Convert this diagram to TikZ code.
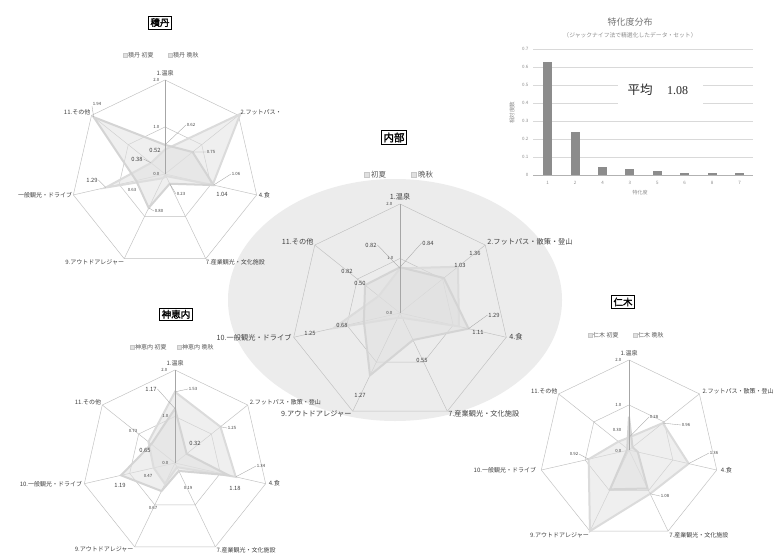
\documentclass[tikz,border=0pt]{standalone}
\usepackage{fontspec}
\setmainfont{Noto Sans CJK JP}[AutoFakeBold=2]
\newfontfamily\numserif{Liberation Serif}
\definecolor{txt}{HTML}{404040}
\definecolor{lgd}{HTML}{595959}
\definecolor{grd}{HTML}{BFBFBF}
\definecolor{ell}{HTML}{ECECEC}
\definecolor{barc}{HTML}{8C8C8C}
\definecolor{bgr}{HTML}{D9D9D9}
\definecolor{btx}{HTML}{8C8C8C}
\newcommand\rcx{0}\newcommand\rcy{0}\newcommand\ru{0}
\newcommand\RP[2]{({\rcx+\ru*(#1)*cos(90-(#2)*51.4285714)},{\rcy-\ru*(#1)*sin(90-(#2)*51.4285714)})}
\newcommand\RGrid{%
\draw[gridl] \RP{2}{0} -- \RP{2}{1} -- \RP{2}{2} -- \RP{2}{3} -- \RP{2}{4} -- \RP{2}{5} -- \RP{2}{6} -- cycle;
\draw[gridl] \RP{1}{0} -- \RP{1}{1} -- \RP{1}{2} -- \RP{1}{3} -- \RP{1}{4} -- \RP{1}{5} -- \RP{1}{6} -- cycle;
\foreach \k in {1,...,6}{\draw[gridl] (\rcx,\rcy) -- \RP{2}{\k};}%
}
\newcommand\RPoly[8]{\draw[#1] \RP{#2}{0} -- \RP{#3}{1} -- \RP{#4}{2} -- \RP{#5}{3} -- \RP{#6}{4} -- \RP{#7}{5} -- \RP{#8}{6} -- cycle;}
\begin{document}
\begin{tikzpicture}[x=1pt,y=-1pt,
 gridl/.style={draw=grd,line width=0.45pt},
 vaxis/.style={draw=black!35,line width=0.6pt},
 serA/.style={draw=black!17,line width=2pt,fill=black!12,fill opacity=0.5},
 serB/.style={draw=black!14,line width=2pt,fill=black!12,fill opacity=0.5},
 cat/.style={font=\fontsize{6}{6}\selectfont,text=txt,inner sep=1pt},
 catL/.style={font=\fontsize{7.2}{7.2}\selectfont,text=txt,inner sep=1pt},
 dls/.style={font=\fontsize{4.3}{4.3}\selectfont,text=txt,inner sep=0.6pt},
 dll/.style={font=\fontsize{5.8}{5.8}\selectfont,text=txt,inner sep=0.6pt},
 lead/.style={draw=black!35,line width=0.35pt},
 vl/.style={font=\fontsize{4.3}{4.3}\selectfont,text=txt,inner sep=0.5pt},
 lgsq/.style={draw=black!22,fill=black!12,minimum size=4pt,inner sep=0pt},
 lgt/.style={font=\fontsize{6}{6}\selectfont,text=lgd,inner sep=0.5pt},
 ttl/.style={draw=black,line width=0.7pt,fill=white,font=\fontsize{9.5}{9.5}\selectfont\bfseries,inner sep=2pt},
 btick/.style={font=\fontsize{4.5}{4.5}\selectfont,text=btx,inner sep=0.5pt},
]
\useasboundingbox (0,0) rectangle (783,556);
\fill[white] (0,0) rectangle (783,556);
\fill[ell] (395,300) ellipse [x radius=167pt, y radius=121pt];

% ================= Chart 1 : 積丹
\def\rcx{165}\def\rcy{174}\def\ru{47}
\RGrid
\RPoly{serB}{0.52}{2.05}{1.04}{0.05}{0.1}{1.29}{0.38}
\RPoly{serA}{0.62}{0.75}{1.06}{0.23}{0.80}{0.63}{1.94}
\draw[vaxis] (\rcx,\rcy) -- \RP{2}{0};
\node[vl,anchor=east] (a1v0) at (160,174) {0.0};
\node[vl,anchor=east] (a1v1) at (160,127) {1.0};
\node[vl,anchor=east] (a1v2) at (160,80) {2.0};
\path \RP{2}{0} node[cat,anchor=south,yshift=3pt] (a1c1) {1.温泉};
\path \RP{2}{1} node[cat,anchor=west,yshift=3pt,xshift=1pt] (a1c2) {2.フットパス・};
\path \RP{2}{2} node[cat,anchor=west,xshift=1pt] (a1c4) {4.食};
\path \RP{2}{3} node[cat,anchor=north west,xshift=-1pt] (a1c7) {7.産業観光・文化施設};
\path \RP{2}{4} node[cat,anchor=north east,xshift=1pt] (a1c9) {9.アウトドアレジャー};
\path \RP{2}{5} node[cat,anchor=east] (a1c10) {一般観光・ドライブ};
\path \RP{2}{6} node[cat,anchor=east,yshift=3pt] (a1c11) {11.その他};
\node[dls] (a1d1) at (97,104) {1.94};
\draw[lead] (a1d1.south west) -- \RP{1.94}{6};
\node[dls] (a1d2) at (191,125) {0.62};
\draw[lead] (a1d2.west) -- \RP{0.62}{0};
\node[dll] (a1d3) at (155,150) {0.52};
\node[dll] (a1d4) at (137,159) {0.38};
\draw[lead] (a1d4.east) -- \RP{0.38}{6};
\node[dls] (a1d5) at (211,152) {0.75};
\draw[lead] (a1d5.west) -- \RP{0.75}{1};
\node[dls] (a1d6) at (236,174) {1.06};
\draw[lead] (a1d6.west) -- \RP{1.06}{2};
\node[dll] (a1d7) at (222,194) {1.04};
\node[dls] (a1d8) at (181,194) {0.23};
\draw[lead] (a1d8.west) -- \RP{0.23}{3};
\node[dls] (a1d9) at (159,211) {0.80};
\draw[lead] (a1d9.west) -- \RP{0.80}{4};
\node[dls] (a1d10) at (132,190) {0.63};
\node[dll] (a1d11) at (92,180) {1.29};
\draw[lead] (a1d11.east) -- \RP{1.29}{5};
\node[lgsq] (a1l1) at (125,55) {};
\node[lgt,anchor=west] (a1l1t) at (127.5,55) {積丹 初夏};
\node[lgsq] (a1l2) at (170,55) {};
\node[lgt,anchor=west] (a1l2t) at (172.5,55) {積丹 晩秋};
\node[ttl] (t1) at (160,22.5) {積丹};

% ================= Chart 2 : 内部
\def\rcx{400}\def\rcy{313}\def\ru{54.5}
\RGrid
\RPoly{serB}{0.82}{1.36}{1.11}{0.1}{0.1}{1.25}{0.50}
\RPoly{serA}{0.84}{1.03}{1.29}{0.55}{1.27}{0.68}{0.82}
\draw[vaxis] (\rcx,\rcy) -- \RP{2}{0};
\node[vl,anchor=east] (a2v0) at (393,313) {0.0};
\node[vl,anchor=east] (a2v1) at (394,258) {1.0};
\node[vl,anchor=east] (a2v2) at (393,204) {2.0};
\path \RP{2}{0} node[catL,anchor=south,yshift=3pt] (a2c1) {1.温泉};
\path \RP{2}{1} node[catL,anchor=west,yshift=3pt,xshift=1pt] (a2c2) {2.フットパス・散策・登山};
\path \RP{2}{2} node[catL,anchor=west,xshift=2pt] (a2c4) {4.食};
\path \RP{2}{3} node[catL,anchor=west,yshift=-3pt] (a2c7) {7.産業観光・文化施設};
\path \RP{2}{4} node[catL,anchor=east,yshift=-3pt] (a2c9) {9.アウトドアレジャー};
\path \RP{2}{5} node[catL,anchor=east,xshift=-1pt] (a2c10) {10.一般観光・ドライブ};
\path \RP{2}{6} node[catL,anchor=east,yshift=3pt] (a2c11) {11.その他};
\node[dll] (a2d1) at (371,245) {0.82};
\draw[lead] (a2d1.east) -- \RP{0.82}{0};
\node[dll] (a2d2) at (428,243) {0.84};
\draw[lead] (a2d2.west) -- \RP{0.84}{0};
\node[dll] (a2d3) at (475,253) {1.36};
\node[dll] (a2d4) at (460,265) {1.03};
\node[dll] (a2d5) at (494,315) {1.29};
\draw[lead] (a2d5.west) -- \RP{1.29}{2};
\node[dll] (a2d6) at (478,332) {1.11};
\node[dll] (a2d7) at (422,360) {0.55};
\node[dll] (a2d8) at (360,395) {1.27};
\node[dll] (a2d9) at (310,333) {1.25};
\node[dll] (a2d10) at (342,325) {0.68};
\node[dll] (a2d11) at (347,271) {0.82};
\node[dll] (a2d12) at (360,283) {0.50};
\node[lgsq,minimum size=5pt] (a2l1) at (367,175) {};
\node[lgt,anchor=west,font=\fontsize{7.5}{7.5}\selectfont] (a2l1t) at (370.5,175) {初夏};
\node[lgsq,minimum size=5pt] (a2l2) at (414,175) {};
\node[lgt,anchor=west,font=\fontsize{7.5}{7.5}\selectfont] (a2l2t) at (417.5,175) {晩秋};
\node[ttl,font=\fontsize{10.5}{10.5}\selectfont\bfseries] (t2) at (394,137.5) {内部};

% ================= Chart 3 : 神恵内
\def\rcx{175}\def\rcy{463}\def\ru{46.5}
\RGrid
\RPoly{serB}{1.53}{1.25}{1.34}{0.1}{0.5}{0.47}{0.73}
\RPoly{serA}{1.17}{0.32}{1.18}{0.19}{0.67}{1.19}{0.65}
\draw[vaxis] (\rcx,\rcy) -- \RP{2}{0};
\node[vl,anchor=east] (a3v0) at (169,463) {0.0};
\node[vl,anchor=east] (a3v1) at (169,416) {1.0};
\node[vl,anchor=east] (a3v2) at (168,370) {2.0};
\path \RP{2}{0} node[cat,anchor=south,yshift=3pt] (a3c1) {1.温泉};
\path \RP{2}{1} node[cat,anchor=west,yshift=3pt,xshift=1pt] (a3c2) {2.フットパス・散策・登山};
\path \RP{2}{2} node[cat,anchor=west,xshift=2pt] (a3c4) {4.食};
\path \RP{2}{3} node[cat,anchor=west,yshift=-3pt] (a3c7) {7.産業観光・文化施設};
\path \RP{2}{4} node[cat,anchor=east,yshift=-3pt] (a3c9) {9.アウトドアレジャー};
\path \RP{2}{5} node[cat,anchor=east,xshift=-1pt] (a3c10) {10.一般観光・ドライブ};
\path \RP{2}{6} node[cat,anchor=east,yshift=3pt] (a3c11) {11.その他};
\node[dll] (a3d1) at (151,389) {1.17};
\draw[lead] (a3d1.east) -- \RP{1.17}{0};
\node[dls] (a3d2) at (193,389) {1.53};
\draw[lead] (a3d2.west) -- \RP{1.53}{0};
\node[dls] (a3d3) at (232,428) {1.25};
\draw[lead] (a3d3.west) -- \RP{1.25}{1};
\node[dll] (a3d4) at (195,443) {0.32};
\node[dls] (a3d5) at (261,466) {1.34};
\draw[lead] (a3d5.west) -- \RP{1.34}{2};
\node[dll] (a3d6) at (235,488) {1.18};
\node[dls] (a3d7) at (188,488) {0.19};
\node[dls] (a3d8) at (153,508) {0.67};
\node[dll] (a3d9) at (120,485) {1.19};
\node[dls] (a3d10) at (148,476) {0.47};
\node[dll] (a3d11) at (145,450) {0.65};
\node[dls] (a3d12) at (133,431) {0.73};
\node[lgsq] (a3l1) at (132,347) {};
\node[lgt,anchor=west] (a3l1t) at (134.5,347) {神恵内 初夏};
\node[lgsq] (a3l2) at (179,347) {};
\node[lgt,anchor=west] (a3l2t) at (181.5,347) {神恵内 晩秋};
\node[ttl] (t3) at (176,314.3) {神恵内};

% ================= Chart 4 : 仁木
\def\rcx{629}\def\rcy{450}\def\ru{45}
\RGrid
\RPoly{serB}{0.28}{0.96}{1.36}{1.08}{2.0}{0.92}{0.30}
\RPoly{serA}{0.74}{0.1}{0.2}{0.95}{0.97}{0.05}{0.05}
\draw[vaxis] (\rcx,\rcy) -- \RP{2}{0};
\node[vl,anchor=east] (a4v0) at (622,451) {0.0};
\node[vl,anchor=east] (a4v1) at (622,405) {1.0};
\node[vl,anchor=east] (a4v2) at (622,360) {2.0};
\path \RP{2}{0} node[cat,anchor=south,yshift=3pt] (a4c1) {1.温泉};
\path \RP{2}{1} node[cat,anchor=west,yshift=3pt,xshift=2pt] (a4c2) {2.フットパス・散策・登山};
\path \RP{2}{2} node[cat,anchor=west,xshift=3pt] (a4c4) {4.食};
\path \RP{2}{3} node[cat,anchor=west,yshift=-4pt] (a4c7) {7.産業観光・文化施設};
\path \RP{2}{4} node[cat,anchor=east,yshift=-4pt] (a4c9) {9.アウトドアレジャー};
\path \RP{2}{5} node[cat,anchor=east,xshift=-4pt] (a4c10) {10.一般観光・ドライブ};
\path \RP{2}{6} node[cat,anchor=east,yshift=3pt] (a4c11) {11.その他};
\node[dls] (a4d1) at (654,417) {0.28};
\draw[lead] (a4d1.west) -- \RP{0.28}{0};
\node[dls] (a4d2) at (686,425) {0.96};
\draw[lead] (a4d2.west) -- \RP{0.96}{1};
\node[dls] (a4d3) at (714,453) {1.36};
\draw[lead] (a4d3.west) -- \RP{1.36}{2};
\node[dls] (a4d4) at (665,496) {1.08};
\draw[lead] (a4d4.west) -- \RP{1.08}{3};
\node[dls] (a4d5) at (617,430) {0.30};
\node[dls] (a4d6) at (574,454) {0.92};
\draw[lead] (a4d6.east) -- \RP{0.92}{5};
\node[lgsq] (a4l1) at (590,335) {};
\node[lgt,anchor=west] (a4l1t) at (592.5,335) {仁木 初夏};
\node[lgsq] (a4l2) at (635,335) {};
\node[lgt,anchor=west] (a4l2t) at (637.5,335) {仁木 晩秋};
\node[ttl] (t4) at (623,302) {仁木};

% ================= Bar chart
\foreach \k in {1,...,7}{\draw[draw=bgr,line width=0.45pt] (533,{175-18*\k}) -- (753,{175-18*\k});}
\draw[draw=black!30,line width=0.5pt] (533,175) -- (753,175);
\node[btick,anchor=east] (y0) at (529,175) {0};
\foreach \k in {1,...,7}{\node[btick,anchor=east] (y\k) at (529,{175-18*\k}) {0.\k};}
\foreach \i/\lab/\v in {0/1/0.625,1/2/0.24,2/4/0.045,3/3/0.035,4/5/0.025,5/6/0.01,6/8/0.01,7/7/0.01}{
  \fill[barc] ({547.7+27.4*\i-4.5},175) rectangle ({547.7+27.4*\i+4.5},{175-180*\v});
  \node[btick] (x\i) at ({547.7+27.4*\i},183) {\lab};
}
\node[font=\fontsize{9}{9}\selectfont,text=black!55] (bt) at (630,22.5) {特化度分布};
\node[font=\fontsize{5.8}{5.8}\selectfont,text=black!45] (bst) at (630,35) {（ジャックナイフ法で精選化したデータ・セット）};
\node[font=\fontsize{5.5}{5.5}\selectfont,text=black!45,rotate=90] (byt) at (512,113) {相対度数};
\node[font=\fontsize{5}{5}\selectfont,text=black!45] (bxt) at (640,193) {特化度};
\fill[white] (618,76) rectangle (703,104);
\node[font=\fontsize{12.5}{12.5}\selectfont,text=black!85] (avg) at (640,90) {平均};
\node[font=\fontsize{12}{12}\selectfont\numserif,text=black!85] (avgv) at (677.5,91) {1.08};
\end{tikzpicture}
\end{document}
